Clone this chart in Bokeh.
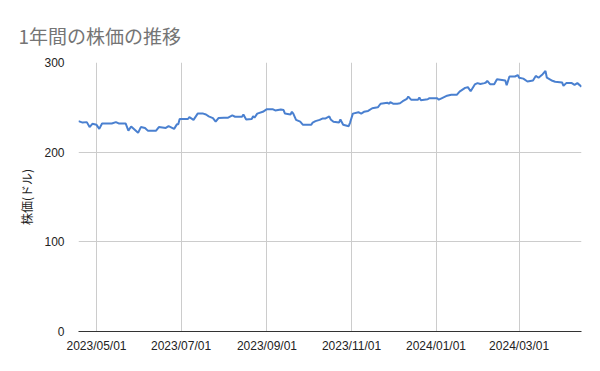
import pandas as pd
from bokeh.plotting import figure
from bokeh.models import FixedTicker, Range1d, ColumnDataSource, CustomJSTickFormatter
from bokeh.embed import file_html
from bokeh.resources import INLINE

title_text = "1年間の株価の推移"
y_label = "株価(ドル)"

dates = [
    "2023-04-18", "2023-04-21", "2023-04-24", "2023-04-26", "2023-04-28", "2023-05-01",
    "2023-05-03", "2023-05-05", "2023-05-09", "2023-05-12", "2023-05-15", "2023-05-17",
    "2023-05-22", "2023-05-24", "2023-05-26", "2023-05-30", "2023-05-31", "2023-06-02",
    "2023-06-05", "2023-06-07", "2023-06-09", "2023-06-13", "2023-06-15", "2023-06-20",
    "2023-06-22", "2023-06-26", "2023-06-28", "2023-06-29", "2023-06-30", "2023-07-03",
    "2023-07-06", "2023-07-07", "2023-07-10", "2023-07-13", "2023-07-17", "2023-07-19",
    "2023-07-21", "2023-07-24", "2023-07-26", "2023-07-28", "2023-08-01", "2023-08-04",
    "2023-08-07", "2023-08-09", "2023-08-14", "2023-08-15", "2023-08-17", "2023-08-21",
    "2023-08-22", "2023-08-23", "2023-08-25", "2023-08-29", "2023-09-01", "2023-09-05",
    "2023-09-07", "2023-09-11", "2023-09-13", "2023-09-14", "2023-09-18", "2023-09-19",
    "2023-09-20", "2023-09-22", "2023-09-25", "2023-09-27", "2023-09-29", "2023-10-03",
    "2023-10-04", "2023-10-06", "2023-10-09", "2023-10-11", "2023-10-13", "2023-10-16",
    "2023-10-17", "2023-10-19", "2023-10-23", "2023-10-24", "2023-10-26", "2023-10-30",
    "2023-10-31", "2023-11-02", "2023-11-06", "2023-11-08", "2023-11-10", "2023-11-13",
    "2023-11-16", "2023-11-20", "2023-11-22", "2023-11-27", "2023-11-28", "2023-11-29",
    "2023-12-01", "2023-12-04", "2023-12-06", "2023-12-08", "2023-12-11", "2023-12-12",
    "2023-12-14", "2023-12-18", "2023-12-19", "2023-12-20", "2023-12-21", "2023-12-26",
    "2023-12-27", "2024-01-02", "2024-01-03", "2024-01-05", "2024-01-09", "2024-01-12",
    "2024-01-16", "2024-01-18", "2024-01-22", "2024-01-24", "2024-01-26", "2024-01-29",
    "2024-01-31", "2024-02-02", "2024-02-05", "2024-02-06", "2024-02-07", "2024-02-09",
    "2024-02-12", "2024-02-14", "2024-02-20", "2024-02-21", "2024-02-23", "2024-02-27",
    "2024-02-29", "2024-03-01", "2024-03-04", "2024-03-07", "2024-03-11", "2024-03-13",
    "2024-03-15", "2024-03-18", "2024-03-20", "2024-03-21", "2024-03-25", "2024-03-27",
    "2024-04-01", "2024-04-02", "2024-04-04", "2024-04-08", "2024-04-10", "2024-04-12",
    "2024-04-15",
]
prices = [
    234.6, 233.0, 233.5, 228.0, 231.6, 230.5,
    226.0, 232.0, 232.0, 232.0, 233.5, 232.0,
    232.0, 224.0, 228.6, 223.0, 221.5, 228.0,
    227.0, 224.0, 224.0, 224.0, 228.0, 227.0,
    229.0, 226.0, 231.0, 231.0, 237.0, 237.0,
    237.0, 239.0, 236.0, 243.0, 243.0, 242.0,
    240.0, 238.0, 234.0, 238.0, 238.5, 238.5,
    241.0, 239.5, 239.5, 242.0, 236.5, 237.0,
    240.0, 238.5, 243.0, 245.0, 248.0, 248.0,
    246.5, 247.6, 247.0, 243.0, 242.0, 245.0,
    243.0, 236.0, 234.0, 230.5, 230.5, 230.5,
    233.0, 234.6, 236.0, 237.5, 237.5, 240.0,
    236.5, 234.0, 233.0, 236.5, 230.5, 229.0,
    233.0, 243.0, 244.6, 243.0, 245.0, 246.0,
    249.0, 250.0, 254.0, 255.0, 254.0, 255.7,
    254.0, 254.0, 254.5, 256.8, 259.5, 262.0,
    258.5, 258.5, 258.5, 261.0, 258.0, 259.0,
    260.0, 260.0, 258.5, 260.0, 263.0, 264.0,
    264.0, 267.6, 271.7, 272.5, 268.0, 275.5,
    277.0, 276.0, 277.0, 277.7, 279.6, 275.8,
    275.8, 281.4, 280.0, 274.7, 284.4, 284.4,
    286.0, 283.0, 282.0, 278.8, 280.0, 285.0,
    283.0, 287.0, 290.7, 283.0, 279.6, 278.5,
    277.7, 274.0, 277.0, 277.0, 275.0, 277.0,
    273.0,
]
tick_dates = ["2023-05-01", "2023-07-01", "2023-09-01", "2023-11-01", "2024-01-01", "2024-03-01"]
y_ticks = [0, 100, 200, 300]

x = pd.to_datetime(dates)
src = ColumnDataSource(dict(x=x, y=prices))

jp = "Noto Sans CJK JP"
latin = "Liberation Sans"

p = figure(width=600, height=371, x_axis_type="datetime",
           output_backend="svg", toolbar_location=None,
           x_range=Range1d(x.min(), x.max()), y_range=Range1d(0, 300),
           min_border_left=78, min_border_right=19, min_border_top=62,
           min_border_bottom=40, title=title_text)
p.outline_line_color = None
p.background_fill_color = "white"
p.border_fill_color = "white"

p.title.text_font = jp
p.title.text_font_size = "19px"
p.title.text_font_style = "normal"
p.title.text_color = "#757575"
p.title.align = "left"
p.title.offset = -60
p.title.standoff = 27

p.line("x", "y", source=src, line_color="#4a80d0", line_width=2)

tick_ms = [pd.Timestamp(d).value // 10**6 for d in tick_dates]
p.xaxis.ticker = FixedTicker(ticks=tick_ms)
p.xaxis.formatter = CustomJSTickFormatter(code="""
const d = new Date(tick);
const m = String(d.getUTCMonth()+1).padStart(2,'0');
const dd = String(d.getUTCDate()).padStart(2,'0');
return d.getUTCFullYear() + '/' + m + '/' + dd;
""")
p.yaxis.ticker = FixedTicker(ticks=y_ticks)

for ax in (p.xaxis, p.yaxis):
    ax.major_label_text_font = latin
    ax.major_label_text_font_size = "12px"
    ax.major_label_text_color = "#222222"
    ax.major_tick_line_color = None
    ax.minor_tick_line_color = None

p.xaxis.axis_line_color = "#333333"
p.xaxis.axis_line_width = 1
p.xaxis.major_label_standoff = 1
p.yaxis.axis_line_color = None
p.yaxis.major_label_standoff = 8

p.yaxis.axis_label = y_label
p.yaxis.axis_label_text_font = jp
p.yaxis.axis_label_text_font_size = "12px"
p.yaxis.axis_label_text_font_style = "normal"
p.yaxis.axis_label_text_color = "#222222"
p.yaxis.axis_label_standoff = 6

p.xgrid.grid_line_color = "#cccccc"
p.ygrid.grid_line_color = "#cccccc"

open("out.html", "w").write(file_html(p, INLINE))
